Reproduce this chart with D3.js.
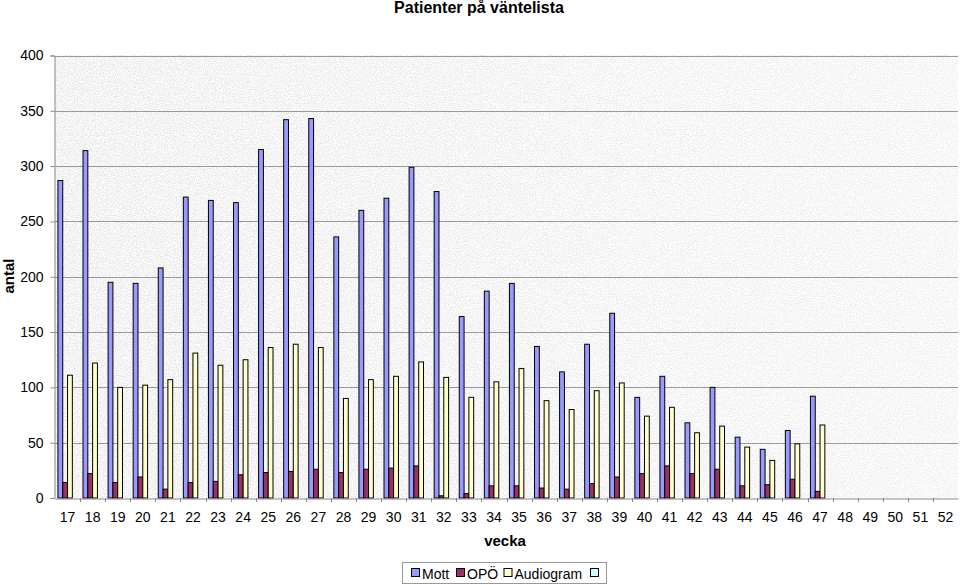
<!DOCTYPE html>
<html><head><meta charset="utf-8">
<script src="https://cdn.jsdelivr.net/npm/d3@7"></script>
<style>
html,body{margin:0;padding:0;background:#fff;}
svg{display:block;font-family:Arial,"Liberation Sans",Helvetica,sans-serif;}
</style></head>
<body>
<svg id="chart" width="960" height="585"></svg>
<script>
const weeks = ["17","18","19","20","21","22","23","24","25","26","27","28","29","30","31","32","33","34","35","36","37","38","39","40","41","42","43","44","45","46","47","48","49","50","51","52"];
const mott = [287,314,195,194,208,272,269,267,315,342,343,236,260,271,299,277,164,187,194,137,114,139,167,91,110,68,100,55,44,61,92,null,null,null,null,null];
const opo = [14,22,14,19,8,14,15,21,23,24,26,23,26,27,29,2,4,11,11,9,8,13,19,22,29,22,26,11,12,17,6,null,null,null,null,null];
const audiogram = [111,122,100,102,107,131,120,125,136,139,136,90,107,110,123,109,91,105,117,88,80,97,104,74,82,59,65,46,34,49,66,null,null,null,null,null];
const fourth = weeks.map(() => null);
const seriesNames = ["Mott","OPÖ","Audiogram",""];
const seriesColors = ["#9999FF","#993366","#FFFFCC","#CCFFFF"];
const yTicks = [0,50,100,150,200,250,300,350,400];

const seriesData = [mott, opo, audiogram, fourth];
const svg = d3.select("#chart");
const m = {left:55, right:958, top:55.5, bottom:498};

const defs = svg.append("defs");
const f = defs.append("filter").attr("id","noise").attr("x",0).attr("y",0).attr("width","100%").attr("height","100%");
f.append("feTurbulence").attr("type","fractalNoise").attr("baseFrequency","0.85").attr("numOctaves",2).attr("seed",7).attr("result","t");
f.append("feColorMatrix").attr("in","t").attr("type","matrix")
  .attr("values","0.6 0 0 0 0.6  0.6 0 0 0 0.6  0.6 0 0 0 0.6  0 0 0 0 1");
const g = defs.append("linearGradient").attr("id","shade").attr("x1","0").attr("x2","1").attr("y1","0").attr("y2","0");
g.append("stop").attr("offset","0").attr("stop-color","#ffffff").attr("stop-opacity",0.05);
g.append("stop").attr("offset","1").attr("stop-color","#ffffff").attr("stop-opacity",0.4);

const x = d3.scaleBand().domain(weeks).range([m.left, m.right]).padding(0);
const xs = d3.scaleBand().domain(d3.range(4)).range([0, x.bandwidth()]).paddingInner(0).paddingOuter(0.61);
const y = d3.scaleLinear().domain([0,400]).range([m.bottom, m.top]);

// plot background
svg.append("rect").attr("x",m.left).attr("y",m.top).attr("width",m.right-m.left).attr("height",m.bottom-m.top)
  .attr("filter","url(#noise)");
svg.append("rect").attr("x",m.left).attr("y",m.top).attr("width",m.right-m.left).attr("height",m.bottom-m.top)
  .attr("fill","url(#shade)");

// gridlines
svg.append("g").selectAll("line").data(yTicks.filter(d=>d>0)).join("line")
  .attr("x1",m.left).attr("x2",m.right).attr("y1",d=>Math.round(y(d))+0.5).attr("y2",d=>Math.round(y(d))+0.5)
  .attr("stroke","#9a9a9a").attr("stroke-width",1);

// bars
const bars = svg.append("g");
seriesData.forEach((arr, si) => {
  bars.append("g").selectAll("rect").data(arr.map((v,i)=>({v, w:weeks[i]})).filter(d=>d.v!=null)).join("rect")
    .attr("x", d => x(d.w) + xs(si))
    .attr("width", xs.bandwidth())
    .attr("y", d => y(d.v))
    .attr("height", d => y(0) - y(d.v))
    .attr("fill", seriesColors[si])
    .attr("stroke","#000").attr("stroke-width",1);
});

// plot border top
svg.append("line").attr("x1",m.left).attr("x2",m.right).attr("y1",Math.round(m.top)+0.5).attr("y2",Math.round(m.top)+0.5)
  .attr("stroke","#9a9a9a");

// y axis
const yAxis = d3.axisLeft(y).tickValues(yTicks).tickSize(4).tickPadding(7);
const ya = svg.append("g").attr("transform",`translate(${m.left-0.5},0)`).call(yAxis);
ya.select(".domain").attr("stroke","#888");
ya.selectAll(".tick line").attr("stroke","#888");
ya.selectAll("text").attr("font-size",14).attr("fill","#000").attr("font-family","Arial, 'Liberation Sans', sans-serif");

// x axis
const xAxis = d3.axisBottom(x).tickSize(0).tickPadding(14);
const xa = svg.append("g").attr("transform",`translate(0,${Math.round(m.bottom)+0.5})`).call(xAxis);
xa.select(".domain").attr("stroke","#888");
xa.selectAll("text").attr("font-size",14).attr("fill","#000").attr("font-family","Arial, 'Liberation Sans', sans-serif");
// category separator ticks
svg.append("g").selectAll("line").data(weeks.slice(1)).join("line")
  .attr("x1",d=>Math.round(x(d))+0.5).attr("x2",d=>Math.round(x(d))+0.5)
  .attr("y1",m.bottom).attr("y2",m.bottom+4).attr("stroke","#888");

// titles
svg.append("text").attr("x",479).attr("y",13).attr("text-anchor","middle")
  .attr("font-size",16).attr("font-weight","bold").text("Patienter på väntelista");
svg.append("text").attr("x",505).attr("y",546).attr("text-anchor","middle")
  .attr("font-size",15).attr("font-weight","bold").text("vecka");
svg.append("text").attr("transform","translate(14,276) rotate(-90)").attr("text-anchor","middle")
  .attr("font-size",15).attr("font-weight","bold").text("antal");

// legend
const leg = svg.append("g");
leg.append("rect").attr("x",402.5).attr("y",562.5).attr("width",204).attr("height",21)
  .attr("fill","#fff").attr("stroke","#999");
const legX = [411,456,503.5,590];
seriesNames.forEach((n,i)=>{
  leg.append("rect").attr("x",legX[i]+0.5).attr("y",568.5).attr("width",8).attr("height",8)
    .attr("fill",seriesColors[i]).attr("stroke","#000");
  if(n) leg.append("text").attr("x",legX[i]+11).attr("y",579).attr("font-size",14).text(n);
});
</script>
</body></html>
